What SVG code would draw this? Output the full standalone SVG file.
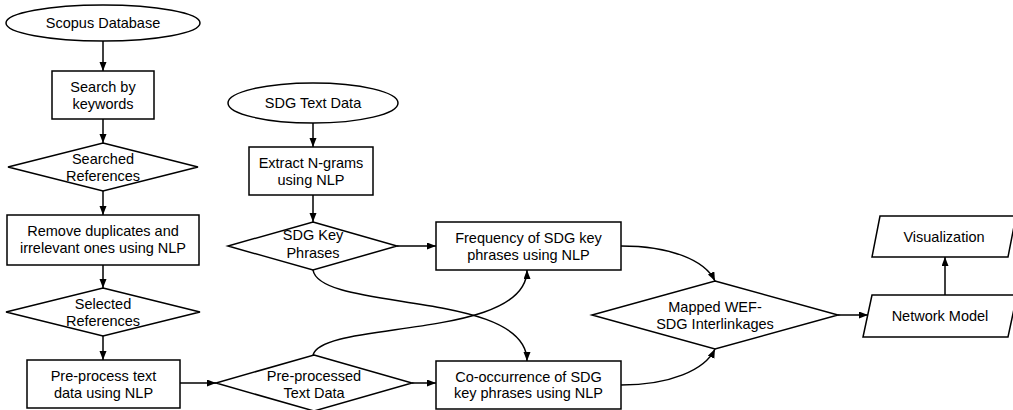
<svg xmlns="http://www.w3.org/2000/svg" width="1013" height="410" viewBox="0 0 1013 410">
<style>
.n{fill:#fff;stroke:#000;stroke-width:1.5}
.t{font-family:"Liberation Sans",Arial,sans-serif;font-size:14.5px;fill:#000;text-anchor:middle}
.c{fill:none;stroke:#000;stroke-width:1.5;marker-end:url(#ah)}
</style>
<defs>
<marker id="ah" markerUnits="userSpaceOnUse" markerWidth="10" markerHeight="8" refX="9" refY="3.5" orient="auto">
<path d="M0,0 L9,3.5 L0,7 z" fill="#000"/>
</marker>
</defs>
<rect width="1013" height="410" fill="#fff"/>
<g id="connectors">
<path class="c" d="M103,41 V71"/>
<path class="c" d="M103,119 V143"/>
<path class="c" d="M103,191 V215"/>
<path class="c" d="M103,265 V288"/>
<path class="c" d="M103,336 V360"/>
<path class="c" d="M180,383 H216"/>
<path class="c" d="M313,123 V147"/>
<path class="c" d="M313,195 V222"/>
<path class="c" d="M397,246 H436"/>
<path class="c" d="M412,383 H436"/>
<path class="c" d="M313,270 C320,312 527,290 527,361"/>
<path class="c" d="M313,355 C322,320 527,340 527,270"/>
<path class="c" d="M621,246 C670,246 705,260 715,281"/>
<path class="c" d="M621,385 C670,385 705,370 715,349"/>
<path class="c" d="M838,315 H868"/>
<path class="c" d="M945,295 V257"/>
</g>
<g id="scopus"><ellipse class="n" cx="103" cy="23" rx="97" ry="18"/><text class="t" x="103" y="28">Scopus Database</text></g>
<g id="search"><rect class="n" x="52" y="71" width="102" height="48"/><text class="t" x="103" y="92">Search by</text><text class="t" x="103" y="109">keywords</text></g>
<g id="searched"><polygon class="n" points="103,143 198,167 103,191 8,167"/><text class="t" x="103" y="164">Searched</text><text class="t" x="103" y="181">References</text></g>
<g id="remove"><rect class="n" x="7" y="215" width="192" height="50"/><text class="t" x="103" y="236">Remove duplicates and</text><text class="t" x="103" y="253">irrelevant ones using NLP</text></g>
<g id="selected"><polygon class="n" points="103,288 200,312 103,336 6,312"/><text class="t" x="103" y="309">Selected</text><text class="t" x="103" y="326">References</text></g>
<g id="preprocess"><rect class="n" x="27" y="360" width="153" height="48"/><text class="t" x="103.5" y="381">Pre-process text</text><text class="t" x="103.5" y="398">data using NLP</text></g>
<g id="preprocessed"><polygon class="n" points="314,355 412,383 314,411 216,383"/><text class="t" x="314" y="381">Pre-processed</text><text class="t" x="314" y="398">Text Data</text></g>
<g id="sdgtext"><ellipse class="n" cx="313" cy="103" rx="85" ry="20"/><text class="t" x="313" y="108">SDG Text Data</text></g>
<g id="extract"><rect class="n" x="249" y="147" width="124" height="48"/><text class="t" x="311" y="168">Extract N-grams</text><text class="t" x="311" y="185">using NLP</text></g>
<g id="keyphrases"><polygon class="n" points="313,222 397,246 313,270 228,246"/><text class="t" x="313" y="240">SDG Key</text><text class="t" x="313" y="258">Phrases</text></g>
<g id="frequency"><rect class="n" x="436" y="222" width="185" height="48"/><text class="t" x="528.5" y="243">Frequency of SDG key</text><text class="t" x="528.5" y="260">phrases using NLP</text></g>
<g id="cooccurrence"><rect class="n" x="436" y="361" width="185" height="48"/><text class="t" x="528.5" y="382">Co-occurrence of SDG</text><text class="t" x="528.5" y="398">key phrases using NLP</text></g>
<g id="mapped"><polygon class="n" points="715,281 838,315 715,349 592,315"/><text class="t" x="715" y="312">Mapped WEF-</text><text class="t" x="715" y="329">SDG Interlinkages</text></g>
<g id="network"><polygon class="n" points="872,295 1017,295 1008,337 863,337"/><text class="t" x="940" y="321">Network Model</text></g>
<g id="visualization"><polygon class="n" points="880,216 1016,216 1008,257 872,257"/><text class="t" x="944" y="242">Visualization</text></g>
</svg>
